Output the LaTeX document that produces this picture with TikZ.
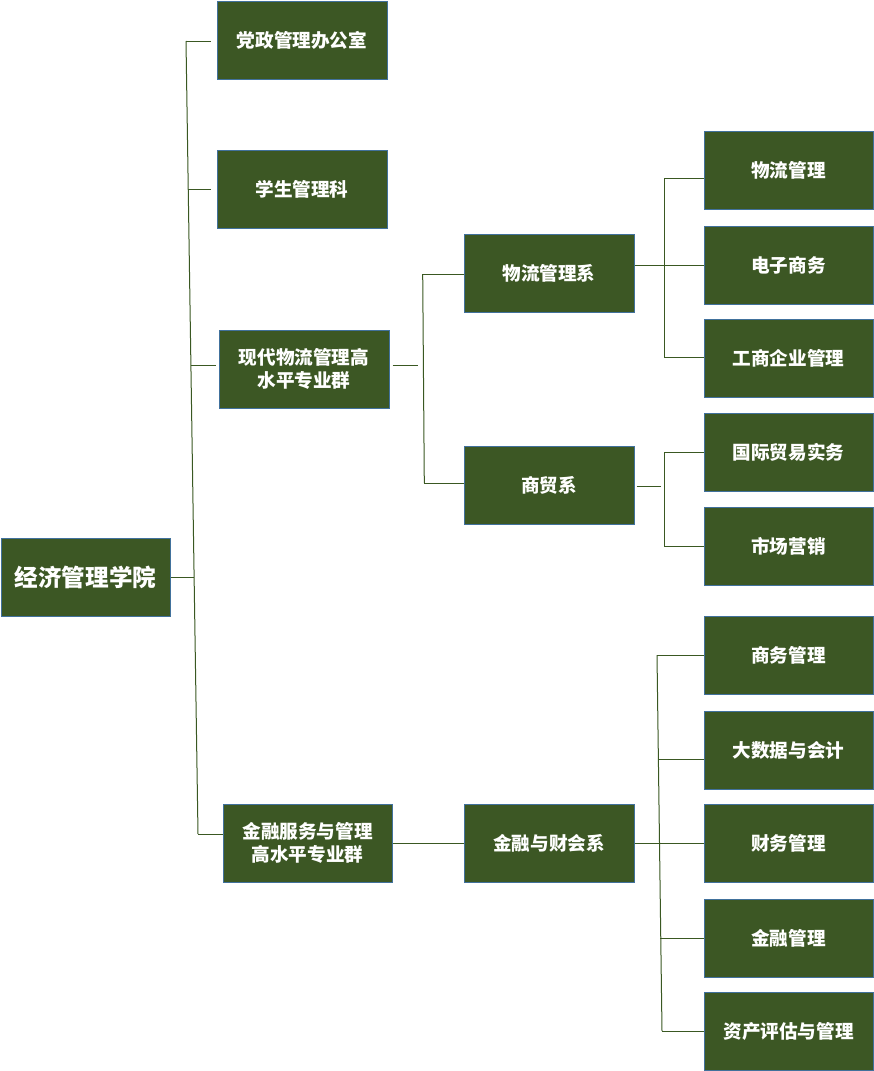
\documentclass[tikz,border=0pt]{standalone}
\usepackage{fontspec}
\setmainfont{Noto Sans CJK SC}
\definecolor{boxgreen}{RGB}{60,87,36}
\definecolor{boxblue}{RGB}{65,113,156}
\definecolor{linegreen}{RGB}{58,88,34}
\begin{document}
\begin{tikzpicture}[x=1pt,y=-1pt,
  box/.style={draw=boxblue, fill=boxgreen, text=white, line width=1pt,
    minimum width=170pt, minimum height=78pt, inner sep=0pt, align=center,
    font=\fontsize{18.6}{23}\selectfont\bfseries},
  conn/.style={draw=linegreen, line width=1pt}]
\useasboundingbox (0,0) rectangle (874,1071);
% nodes
\node[box, minimum width=169pt, font=\fontsize{23.6}{28}\selectfont\bfseries] (root) at (85.5,577) {经济管理学院};
\node[box] (dang) at (302,40) {党政管理办公室};
\node[box] (xue) at (302,189) {学生管理科};
\node[box] (xd) at (304,369) {现代物流管理高\\水平专业群};
\node[box, minimum width=169pt] (jr) at (307.5,843) {金融服务与管理\\高水平专业群};
\node[box] (wlx) at (549,273) {物流管理系};
\node[box] (smx) at (549,485) {商贸系};
\node[box] (jcx) at (549,843) {金融与财会系};
\node[box, minimum width=169pt] (r1) at (788.5,170) {物流管理};
\node[box, minimum width=169pt] (r2) at (788.5,265.5) {电子商务};
\node[box, minimum width=169pt] (r3) at (788.5,358) {工商企业管理};
\node[box, minimum width=169pt] (r4) at (788.5,452.5) {国际贸易实务};
\node[box, minimum width=169pt] (r5) at (788.5,546) {市场营销};
\node[box, minimum width=169pt] (r6) at (788.5,655) {商务管理};
\node[box, minimum width=169pt] (r7) at (788.5,750) {大数据与会计};
\node[box, minimum width=169pt] (r8) at (788.5,843) {财务管理};
\node[box, minimum width=169pt] (r9) at (788.5,938) {金融管理};
\node[box, minimum width=169pt] (r10) at (788.5,1031) {资产评估与管理};
% left bus
\coordinate (LA) at (186,41);
\coordinate (LB) at (188.2,189);
\coordinate (LC) at (190.9,365);
\coordinate (LD) at (194.1,577);
\coordinate (LE) at (198,834);
\draw[conn] (LA) -- (LE);
\draw[conn, shorten >=6pt] (LA) -- (dang.west |- LA);
\draw[conn, shorten >=6pt] (LB) -- (xue.west |- LB);
\draw[conn, shorten >=3pt] (LC) -- (xd.west |- LC);
\draw[conn] (root.east) -- (LD);
\draw[conn] (LE) -- (jr.west |- LE);
% middle bus
\coordinate (MA) at (422.7,274);
\coordinate (MB) at (424.3,483);
\coordinate (MS) at (423.5,365);
\draw[conn] (MA) -- (MB);
\draw[conn, shorten <=3pt, shorten >=6pt] (xd.east |- MS) -- (MS);
\draw[conn] (MA) -- (wlx.west |- MA);
\draw[conn] (MB) -- (smx.west |- MB);
\draw[conn] (jr.east) -- (jcx.west);
% right bus 1
\coordinate (RA) at (664,178);
\coordinate (RB) at (664,357);
\draw[conn] (RA) -- (RB);
\draw[conn] (wlx.east |- r2.west) -- (r2.west);
\draw[conn] (RA) -- (r1.west |- RA);
\draw[conn] (RB) -- (r3.west |- RB);
% right bus 2
\coordinate (RC) at (664,452);
\coordinate (RD) at (664,546);
\coordinate (RS) at (664,486);
\draw[conn] (RC) -- (RD);
\draw[conn, shorten <=2pt, shorten >=3pt] (smx.east |- RS) -- (RS);
\draw[conn] (RC) -- (r4.west |- RC);
\draw[conn] (RD) -- (r5.west |- RD);
% right bus 3
\coordinate (RE) at (657,655);
\coordinate (RF) at (658.4,759);
\coordinate (RG) at (660.3,938);
\coordinate (RH) at (662,1031);
\draw[conn] (RE) -- (RH);
\draw[conn] (RE) -- (r6.west |- RE);
\draw[conn] (RF) -- (r7.west |- RF);
\draw[conn] (jcx.east) -- (r8.west);
\draw[conn] (RG) -- (r9.west |- RG);
\draw[conn] (RH) -- (r10.west |- RH);
\end{tikzpicture}
\end{document}
